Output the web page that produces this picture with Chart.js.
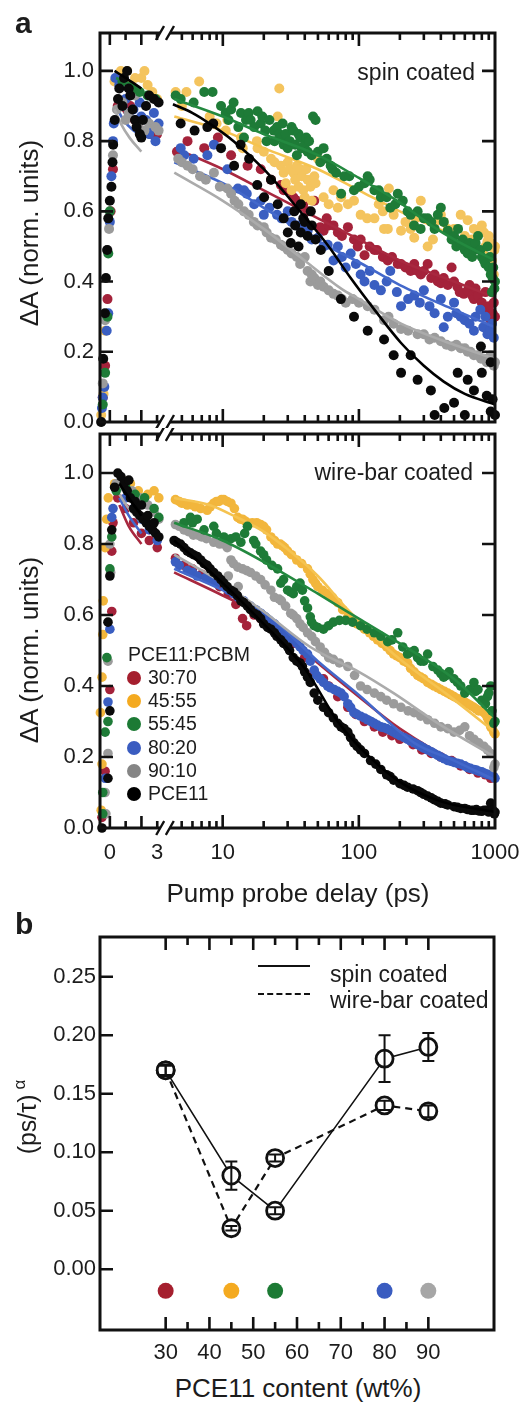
<!DOCTYPE html>
<html><head><meta charset="utf-8"><title>Transient absorption decays</title>
<script src="https://cdn.jsdelivr.net/npm/chart.js@4.4.1/dist/chart.umd.min.js"></script>
<style>
html,body{margin:0;padding:0;background:#fff;}
#wrap{position:relative;width:523px;height:1402px;overflow:hidden;font-family:"Liberation Sans",Arial,Helvetica,sans-serif;color:#1c1c1c;}
#wrap canvas{position:absolute;}
.tx{position:absolute;white-space:nowrap;line-height:1;}
.cy{transform:translateY(-50%);}
.cc{transform:translate(-50%,-50%);}
.rot{transform:translate(-50%,-50%) rotate(-90deg);}
.dot{position:absolute;border-radius:50%;width:14px;height:14px;transform:translate(-50%,-50%);}
.lg{position:absolute;width:52px;height:0;}
</style></head>
<body><div id="wrap">
<canvas id="aTL" width="165" height="428" style="left:0;top:0;width:165px;height:428px"></canvas>
<canvas id="aTR" width="358" height="428" style="left:165px;top:0;width:358px;height:428px"></canvas>
<canvas id="aBL" width="165" height="440" style="left:0;top:428px;width:165px;height:440px"></canvas>
<canvas id="aBR" width="358" height="440" style="left:165px;top:428px;width:358px;height:440px"></canvas>
<canvas id="bC" width="523" height="470" style="left:0;top:900px;width:523px;height:470px"></canvas>

<div class="tx" style="left:15px;top:8px;font-weight:bold;font-size:30px">a</div>
<div class="tx" style="left:15px;top:909px;font-weight:bold;font-size:30px">b</div>
<div class="tx cy" style="right:48px;top:72px;font-size:23px">spin coated</div>
<div class="tx cy" style="right:50px;top:472px;font-size:23px">wire-bar coated</div>
<div class="tx rot" style="left:29px;top:233px;font-size:26px">ΔA (norm. units)</div>
<div class="tx rot" style="left:29px;top:650px;font-size:26px">ΔA (norm. units)</div>
<div class="tx cc" style="left:298px;top:893px;font-size:26px">Pump probe delay (ps)</div>
<div id="legA"></div>
<div class="tx rot" style="left:27px;top:1117px;font-size:25px">(ps/τ)<span style="font-size:17px;position:relative;top:-11px;margin-left:5px">α</span></div>
<div class="tx cc" style="left:298px;top:1388px;font-size:26px">PCE11 content (wt%)</div>
<div class="lg" style="left:258px;top:965px;border-top:2px solid #111"></div>
<div class="tx cy" style="left:330px;top:974px;font-size:23px">spin coated</div>
<div class="lg" style="left:258px;top:993px;border-top:2px dashed #111"></div>
<div class="tx cy" style="left:330px;top:1000px;font-size:23px">wire-bar coated</div>
</div>
<script>
// ---------------- DATA ----------------
const SERIES_LABELS = ['30:70','45:55','55:45','80:20','90:10','PCE11'];
const X_LIN_LABELS = [0, 3];
const X_LOG_LABELS = [10, 100, 1000];
const Y_A_LABELS = [0, 0.2, 0.4, 0.6, 0.8, 1.0];
const X_B_LABELS = [30, 40, 50, 60, 70, 80, 90];
const Y_B_LABELS = [0, 0.05, 0.10, 0.15, 0.20, 0.25];

// spin coated: measured points [delay ps, dA]
const SPIN_BLACK = [[-0.55,0.0],[-0.42,0.18],[-0.31,0.31],[-0.25,0.41],[-0.17,0.49],[-0.1,0.58],[0,0.63],[0.1,0.67],[0.17,0.74],[0.21,0.79],[0.31,0.86],[0.52,0.92],[0.6,0.95],[0.8,0.90],[0.9,0.98],[1.1,1.0],[1.2,0.95],[1.3,0.93],[1.45,0.89],[1.6,0.86],[1.7,0.84],[1.9,0.82],[2.0,0.81],[2.1,0.86],[2.3,0.90],[2.5,0.93],[2.8,0.92],[3.1,0.91],
 [4.9,0.85],[6.2,0.83],[7.7,0.84],[8.5,0.85],[9.7,0.78],[12.1,0.73],[13.5,0.79],[15.6,0.75],[17.9,0.675],[20.1,0.64],[22.6,0.69],[25.3,0.62],[28,0.58],[30,0.54],[31.6,0.51],[33.5,0.60],[34,0.56],[36,0.50],[37.4,0.62],[37.4,0.54],[39,0.58],[40,0.57],[42,0.53],[44.3,0.60],[45,0.56],[48,0.52],[52.5,0.49],[60,0.43],[73.7,0.35],[92,0.30],[116,0.26],[153,0.235],[180,0.19],[204,0.14],[240,0.19],[270,0.12],[338,0.09],[360,0.02],[424,0.04],[500,0.055],[532,0.14],[600,0.02],[630,0.12],[700,0.09],[788,0.215],[800,0.14],[870,0.075],[930,0.17],[930,0.03],[960,0.065],[1000,0.02]];
const SPIN_GREEN = [[-0.45,0.05],[-0.3,0.14],[-0.15,0.3],[-0.1,0.48],[0.0,0.6],[0.8,0.97],[1.5,0.95],[1.9,0.94],[2.4,0.93],[2.9,0.92],
 [4.5,0.93],[4.9,0.92],[6.1,0.91],[7.3,0.94],[8.4,0.94],[9.7,0.90],[10.5,0.88],[11,0.86],[11.5,0.89],[12,0.91],[13,0.84],[13.6,0.88],[14.3,0.81],[14.8,0.86],[15.5,0.88],[16,0.86],[17,0.84],[18,0.885],[19,0.85],[19.5,0.87],[20.5,0.83],[21,0.80],[22,0.86],[23.7,0.83],[24,0.80],[25,0.84],[26,0.82],[26.7,0.81],[27.5,0.85],[28,0.79],[29,0.82],[30,0.78],[31,0.80],[32,0.84],[33,0.83],[34,0.79],[35,0.76],[36,0.82],[37,0.81],[38,0.78],[40,0.79],[41,0.81],[42,0.77],[43,0.80],[45,0.76],[46,0.87],[48,0.86],[50,0.77],[52,0.74],[55,0.78],[58,0.75],[62,0.73],[64,0.72],[68,0.71],[74,0.65],[78,0.70],[85,0.70],[92,0.66],[100,0.67],[110,0.68],[116,0.70],[120,0.69],[130,0.66],[140,0.66],[145,0.64],[160,0.64],[170,0.61],[185,0.62],[193,0.65],[210,0.63],[228,0.60],[240,0.59],[254,0.56],[270,0.60],[284,0.55],[300,0.58],[320,0.58],[340,0.57],[360,0.55],[380,0.59],[400,0.61],[420,0.57],[450,0.545],[480,0.52],[500,0.53],[520,0.50],[535,0.55],[560,0.51],[580,0.52],[600,0.49],[630,0.48],[650,0.51],[680,0.47],[700,0.49],[720,0.51],[750,0.53],[780,0.49],[800,0.47],[830,0.46],[850,0.45],[880,0.50],[900,0.44],[920,0.47],[930,0.42],[950,0.37],[960,0.41],[970,0.44],[990,0.38],[1000,0.40]];
const SPIN_YELLOW = [[-0.55,0.02],[-0.4,0.08],[-0.3,0.26],[0.3,0.97],[0.7,1.0],[1.1,1.0],[1.6,0.98],[2.0,0.98],[2.2,1.0],[2.4,0.96],[2.7,0.94],[3.0,0.92],
 [4.5,0.94],[5.0,0.90],[5.4,0.94],[6.7,0.97],[8,0.87],[9,0.85],[10.5,0.83],[10.8,0.86],[13.6,0.81],[14,0.78],[17.8,0.80],[18,0.78],[20,0.77],[22.6,0.75],[24,0.74],[25.3,0.87],[26,0.95],[26.7,0.73],[28,0.71],[29,0.68],[30,0.74],[31,0.72],[32,0.66],[33,0.71],[34,0.69],[35,0.73],[36,0.67],[37,0.72],[38,0.70],[39,0.66],[40,0.64],[41,0.72],[42,0.69],[44,0.67],[45,0.63],[47,0.70],[48,0.68],[50,0.75],[55,0.64],[60,0.62],[65,0.66],[70,0.61],[74,0.64],[83,0.62],[92,0.63],[103,0.59],[115,0.58],[130,0.58],[140,0.62],[150,0.60],[153,0.55],[163,0.55],[166,0.665],[180,0.59],[204,0.545],[220,0.57],[240,0.55],[255,0.525],[260,0.58],[285,0.63],[320,0.50],[350,0.52],[380,0.575],[400,0.59],[420,0.57],[450,0.55],[500,0.55],[560,0.59],[600,0.53],[630,0.575],[680,0.52],[700,0.55],[750,0.545],[800,0.56],[830,0.54],[850,0.50],[880,0.515],[900,0.53],[930,0.51],[950,0.46],[980,0.42],[990,0.49],[1000,0.50]];
const SPIN_RED = [[-0.45,0.07],[-0.3,0.16],[-0.15,0.35],[0.05,0.6],[0.2,0.72],[0.5,0.9],[1.3,0.9],[2.0,0.83],[2.6,0.82],[3.0,0.82],
 [4.6,0.77],[5.5,0.80],[7.3,0.78],[9.2,0.81],[11.5,0.76],[15.2,0.73],[19,0.72],[22.6,0.69],[26.7,0.675],[28,0.66],[30,0.66],[33,0.64],[35,0.63],[39,0.62],[42,0.60],[47,0.63],[52,0.555],[55,0.545],[58,0.58],[60,0.56],[65,0.56],[70,0.54],[75,0.53],[83,0.555],[92,0.52],[98,0.50],[103,0.52],[110,0.475],[120,0.50],[130,0.49],[136,0.49],[150,0.47],[163,0.46],[175,0.47],[193,0.45],[204,0.45],[220,0.44],[240,0.43],[255,0.45],[270,0.43],[285,0.42],[300,0.43],[320,0.45],[340,0.41],[360,0.42],[380,0.40],[400,0.395],[420,0.41],[450,0.39],[480,0.44],[500,0.40],[530,0.385],[550,0.37],[590,0.365],[630,0.375],[650,0.39],[680,0.36],[700,0.35],[720,0.38],[750,0.36],[800,0.34],[830,0.33],[850,0.37],[880,0.32],[900,0.33],[930,0.29],[950,0.29],[960,0.31],[980,0.34],[1000,0.30]];
const SPIN_BLUE = [[-0.5,0.04],[-0.45,0.07],[-0.35,0.1],[-0.2,0.26],[-0.1,0.31],[0,0.57],[0.1,0.7],[0.2,0.8],[0.25,0.85],[0.35,0.98],[0.6,0.96],[0.8,0.9],[1.0,0.92],[1.2,0.88],[1.5,0.89],[1.7,0.86],[1.9,0.91],[2.0,0.87],[2.3,0.86],[2.5,0.82],[2.7,0.84],[2.8,0.88],[2.9,0.80],[3.1,0.85],
 [4.9,0.78],[5.2,0.76],[6.1,0.75],[7.7,0.76],[8.6,0.79],[10.8,0.72],[12.9,0.665],[14.3,0.66],[15,0.65],[17,0.62],[19,0.63],[20,0.59],[22,0.61],[25,0.59],[27,0.58],[30,0.60],[32,0.57],[35,0.56],[38,0.55],[42,0.545],[45,0.52],[50,0.525],[55,0.50],[59,0.505],[65,0.46],[70,0.50],[75,0.47],[80,0.44],[87,0.48],[95,0.45],[103,0.42],[110,0.40],[120,0.43],[130,0.39],[145,0.375],[160,0.40],[170,0.43],[190,0.37],[204,0.33],[230,0.35],[255,0.36],[280,0.34],[300,0.375],[330,0.33],[360,0.31],[400,0.35],[420,0.27],[450,0.30],[500,0.34],[520,0.31],[560,0.30],[600,0.29],[650,0.28],[700,0.26],[720,0.30],[780,0.32],[820,0.27],[850,0.30],[880,0.25],[920,0.26],[950,0.28],[980,0.24]];
const SPIN_GRAY = [[-0.55,0.0],[-0.45,0.11],[-0.3,0.29],[-0.15,0.49],[-0.05,0.55],[0.2,0.76],[0.45,0.89],[0.8,0.91],[1.0,0.86],[1.2,0.88],[1.6,0.93],[1.8,0.85],[2.2,0.83],[2.5,0.85],[2.9,0.84],[3.1,0.83],
 [4.7,0.75],[5,0.74],[5.5,0.73],[6,0.72],[6.8,0.70],[7.5,0.69],[8.6,0.71],[9.5,0.67],[10.8,0.665],[11.5,0.65],[12.2,0.63],[13,0.62],[14.3,0.60],[15.5,0.59],[16.9,0.57],[18,0.56],[20,0.555],[21,0.54],[22.6,0.525],[24.5,0.52],[26.7,0.505],[28,0.50],[30,0.49],[32,0.48],[35,0.47],[37,0.45],[40,0.47],[42,0.43],[44,0.40],[45,0.42],[47,0.41],[50,0.39],[52,0.40],[55,0.385],[60,0.375],[65,0.365],[70,0.36],[75,0.35],[80,0.34],[90,0.35],[100,0.34],[116,0.33],[130,0.32],[153,0.29],[165,0.30],[180,0.28],[204,0.265],[230,0.26],[270,0.25],[300,0.25],[330,0.235],[360,0.24],[400,0.23],[440,0.22],[480,0.215],[520,0.22],[560,0.21],[600,0.21],[630,0.20],[660,0.20],[700,0.19],[750,0.19],[790,0.18],[830,0.18],[870,0.17],[900,0.18],[930,0.19],[980,0.16],[1000,0.17]];

// spin coated: fitted curves
const SPIN_FIT_BLACK = [[0.3,1.0],[1.0,0.98],[2.0,0.95],[3.2,0.915],[4.3,0.905],[6,0.88],[8,0.85],[12,0.80],[20,0.72],[37,0.60],[60,0.50],[87,0.41],[130,0.32],[204,0.225],[300,0.16],[420,0.115],[600,0.08],[1000,0.05]];
const SPIN_FIT_GREEN = [[0.4,0.98],[1.5,0.96],[3.2,0.94],[4.4,0.92],[10,0.87],[20,0.82],[50,0.76],[100,0.695],[200,0.625],[340,0.56],[500,0.52],[1000,0.46]];
const SPIN_FIT_YELLOW = [[0.4,0.99],[1.5,0.96],[3.2,0.93],[4.4,0.87],[10,0.83],[20,0.78],[50,0.72],[100,0.66],[200,0.60],[500,0.53],[1000,0.47]];
const SPIN_FIT_RED = [[0.4,0.92],[0.8,0.89],[1.5,0.85],[2.3,0.825],[3.2,0.805],[4.4,0.78],[10,0.72],[20,0.66],[50,0.58],[100,0.52],[200,0.46],[500,0.40],[1000,0.355]];
const SPIN_FIT_BLUE = [[0.4,0.90],[0.8,0.865],[1.5,0.83],[2.3,0.81],[3.2,0.79],[4.4,0.74],[10,0.68],[20,0.61],[50,0.515],[100,0.455],[200,0.39],[500,0.32],[1000,0.27]];
const SPIN_FIT_GRAY = [[0.3,0.89],[0.7,0.85],[1.25,0.81],[2.0,0.77],[3.2,0.735],[4.4,0.71],[10,0.63],[20,0.55],[37,0.47],[74,0.38],[100,0.35],[204,0.28],[500,0.22],[1000,0.18]];

// wire-bar coated: measured points
const WIRE_BLACK = [[-0.5,0.0],[-0.12,0.14],[0.0,0.33],[-0.12,0.58],[0.0,0.71],[0.12,0.84],[0.3,0.96],[0.5,1.0],[0.7,0.99],[0.9,0.97],[1.1,0.95],[1.2,0.98],[1.3,0.93],[1.5,0.90],[1.6,0.92],[1.7,0.89],[1.9,0.88],[2.0,0.91],[2.1,0.87],[2.3,0.86],[2.4,0.88],[2.5,0.85],[2.7,0.84],[2.8,0.86],[2.9,0.83],[3.1,0.82],
 [4.4,0.81],[4.6,0.805],[4.9,0.80],[5.2,0.79],[5.5,0.78],[5.8,0.775],[6.1,0.77],[6.5,0.765],[6.9,0.755],[7.3,0.745],[7.7,0.74],[8.1,0.73],[8.6,0.72],[9.2,0.71],[9.7,0.70],[10.2,0.69],[10.8,0.68],[11.5,0.67],[12.1,0.665],[12.8,0.655],[13.6,0.64],[14.3,0.635],[15.2,0.625],[16,0.615],[17,0.605],[18,0.60],[19,0.59],[20,0.575],[21.4,0.565],[22.6,0.56],[24,0.55],[25,0.54],[26.7,0.53],[28,0.52],[30,0.51],[31,0.50],[33,0.48],[35,0.47],[37,0.465],[38.5,0.455],[40,0.44],[42,0.425],[44,0.41],[47,0.38],[50,0.36],[55,0.34],[60,0.325],[65,0.31],[70,0.295],[74,0.285],[78,0.28],[83,0.27],[87,0.255],[92,0.24],[97,0.23],[103,0.22],[110,0.21],[122,0.19],[133,0.18],[145,0.165],[160,0.15],[170,0.145],[180,0.135],[200,0.125],[215,0.12],[228,0.115],[250,0.11],[270,0.105],[285,0.10],[300,0.095],[320,0.09],[340,0.085],[357,0.08],[380,0.075],[400,0.07],[430,0.068],[450,0.065],[500,0.06],[530,0.058],[560,0.055],[600,0.055],[630,0.052],[670,0.05],[700,0.05],[730,0.052],[760,0.048],[800,0.047],[830,0.05],[870,0.05],[900,0.045],[930,0.07],[960,0.05],[990,0.04],[1000,0.045]];
const WIRE_GREEN = [[-0.45,0.04],[-0.45,0.10],[-0.3,0.27],[-0.12,0.30],[-0.19,0.48],[0.0,0.73],[0.12,0.82],[0.4,0.95],[1.0,0.96],[1.6,0.94],[2.2,0.93],[2.8,0.90],[3.1,0.875],
 [5.2,0.86],[5.8,0.875],[6,0.86],[6.5,0.87],[7.3,0.84],[8.6,0.85],[9,0.83],[10.2,0.82],[11.5,0.815],[12.5,0.82],[13.6,0.805],[14.5,0.83],[15.2,0.85],[16.9,0.81],[17.5,0.80],[19,0.78],[20,0.77],[21,0.755],[23,0.74],[25.3,0.73],[26.7,0.69],[28,0.70],[30,0.67],[31.5,0.665],[33,0.66],[35,0.68],[37,0.69],[38.5,0.67],[40,0.64],[42,0.62],[44,0.595],[45,0.58],[47,0.57],[50,0.565],[55,0.56],[60,0.57],[65,0.58],[72,0.585],[80,0.585],[90,0.58],[103,0.57],[115,0.56],[130,0.55],[145,0.54],[163,0.525],[175,0.53],[193,0.55],[210,0.51],[228,0.49],[240,0.495],[255,0.50],[270,0.48],[285,0.47],[300,0.47],[320,0.49],[350,0.455],[380,0.445],[400,0.435],[420,0.425],[440,0.43],[460,0.44],[500,0.42],[530,0.41],[560,0.40],[600,0.38],[650,0.39],[700,0.41],[720,0.385],[750,0.39],[800,0.36],[850,0.35],[880,0.37],[900,0.38],[930,0.40],[950,0.33],[980,0.295],[1000,0.30]];
const WIRE_YELLOW = [[-0.6,0.325],[-0.5,0.425],[-0.45,0.545],[-0.42,0.64],[-0.3,0.79],[-0.2,0.87],[-0.1,0.93],[-0.55,0.05],[-0.5,0.18],[0.3,0.97],[0.8,0.98],[1.3,0.97],[1.8,0.95],[2.4,0.94],[2.8,0.95],[3.1,0.93],
 [4.5,0.925],[4.8,0.92],[5.0,0.915],[5.2,0.915],[5.5,0.91],[6,0.91],[6.3,0.905],[6.9,0.90],[7.7,0.895],[8.1,0.905],[8.6,0.915],[9,0.92],[9.4,0.92],[9.8,0.925],[10.2,0.925],[10.8,0.92],[11.5,0.915],[12.2,0.90],[12.9,0.875],[13.5,0.87],[14,0.87],[14.6,0.865],[15.2,0.86],[16.5,0.86],[17.8,0.86],[19,0.855],[20,0.85],[21,0.84],[22.6,0.82],[24,0.81],[25.3,0.80],[26.5,0.80],[27.5,0.795],[28.5,0.79],[30,0.78],[32,0.77],[35,0.755],[38,0.745],[42,0.73],[44,0.715],[46,0.70],[48,0.69],[50,0.68],[54,0.67],[59,0.66],[64,0.65],[70,0.635],[76,0.615],[83,0.595],[88,0.585],[92,0.58],[97,0.575],[103,0.57],[110,0.56],[120,0.55],[128,0.54],[137,0.53],[148,0.52],[160,0.51],[170,0.50],[180,0.49],[190,0.485],[200,0.48],[214,0.47],[228,0.465],[240,0.45],[255,0.44],[270,0.43],[285,0.425],[300,0.42],[320,0.41],[340,0.405],[357,0.40],[380,0.395],[400,0.39],[425,0.385],[450,0.38],[475,0.375],[500,0.37],[530,0.365],[560,0.36],[600,0.355],[630,0.35],[665,0.345],[700,0.34],[730,0.335],[760,0.33],[800,0.33],[830,0.325],[855,0.32],[880,0.31],[905,0.30],[930,0.285],[955,0.28],[980,0.27],[1000,0.265]];
const WIRE_RED = [[-0.5,0.03],[-0.3,0.16],[0,0.39],[0.12,0.61],[0.12,0.78],[0.2,0.86],[0.5,0.93],[1.0,0.90],[1.5,0.86],[2.0,0.83],[2.5,0.81],[3.0,0.79],
 [4.5,0.76],[5.2,0.74],[6,0.73],[7,0.715],[8,0.70],[9.5,0.68],[11,0.66],[12.5,0.63],[14,0.59],[15,0.57],[17,0.60],[19,0.59],[22,0.565],[25,0.55],[28,0.535],[33,0.52],[40,0.48],[47,0.44],[55,0.42],[60,0.40],[70,0.37],[83,0.34],[95,0.32],[110,0.30],[130,0.285],[150,0.27],[175,0.26],[200,0.25],[250,0.235],[290,0.22],[340,0.21],[400,0.20],[480,0.19],[560,0.175],[650,0.165],[750,0.155],[850,0.15],[930,0.14]];
const WIRE_BLUE = [[-0.3,0.14],[-0.12,0.355],[0,0.56],[0.12,0.875],[0.2,0.90],[0.5,0.97],[1.0,0.93],[1.5,0.90],[2.0,0.87],[2.5,0.84],[3.0,0.81],
 [4.5,0.75],[4.8,0.74],[5.5,0.725],[6,0.72],[6.5,0.71],[7.5,0.705],[8.2,0.70],[9,0.69],[10.5,0.68],[11,0.67],[12,0.66],[13,0.65],[14.3,0.64],[15,0.63],[16,0.625],[17.5,0.615],[19,0.605],[20.5,0.595],[22,0.585],[24,0.575],[25.3,0.565],[27,0.555],[29,0.545],[31,0.535],[33,0.53],[35,0.52],[37,0.51],[39,0.50],[42,0.49],[44,0.47],[47,0.445],[49,0.43],[52,0.42],[55,0.41],[59,0.40],[62,0.395],[66,0.39],[70,0.385],[74,0.38],[78,0.37],[83,0.35],[87,0.34],[92,0.325],[97,0.32],[103,0.315],[110,0.31],[116,0.305],[123,0.30],[130,0.295],[137,0.29],[145,0.285],[152,0.283],[160,0.28],[170,0.275],[180,0.27],[190,0.265],[200,0.26],[215,0.255],[228,0.25],[240,0.245],[255,0.24],[270,0.235],[285,0.23],[300,0.225],[320,0.22],[340,0.215],[357,0.21],[380,0.205],[400,0.20],[425,0.195],[450,0.19],[475,0.188],[500,0.185],[530,0.182],[560,0.18],[600,0.175],[630,0.17],[660,0.168],[700,0.165],[730,0.163],[760,0.16],[800,0.158],[830,0.155],[870,0.152],[900,0.15],[940,0.148],[980,0.145],[1000,0.14]];
const WIRE_GRAY = [[-0.25,0.04],[-0.3,0.10],[-0.12,0.21],[-0.12,0.47],[0.05,0.72],[0.0,0.80],[0.4,0.97],[0.9,0.96],[1.4,0.95],[1.9,0.93],[2.4,0.91],[2.8,0.89],[3.1,0.87],
 [4.5,0.855],[4.8,0.85],[5.2,0.84],[5.6,0.835],[6.1,0.825],[6.6,0.825],[7,0.82],[7.6,0.815],[8.6,0.805],[9.5,0.80],[10.2,0.80],[10.8,0.79],[11,0.71],[11.5,0.755],[12,0.745],[12.9,0.735],[13,0.68],[14,0.73],[15,0.725],[16,0.72],[17.5,0.71],[19,0.70],[20.5,0.685],[22.6,0.67],[24,0.65],[26,0.645],[27,0.64],[29,0.625],[31.6,0.605],[33,0.60],[35,0.59],[37,0.575],[39,0.565],[42,0.55],[45,0.54],[48,0.525],[52,0.51],[56,0.495],[60,0.48],[65,0.475],[72,0.465],[83,0.455],[93,0.43],[103,0.40],[115,0.39],[130,0.38],[145,0.37],[160,0.36],[180,0.35],[204,0.34],[230,0.33],[255,0.325],[285,0.315],[320,0.305],[360,0.295],[400,0.285],[450,0.28],[500,0.27],[550,0.275],[600,0.285],[650,0.26],[700,0.25],[760,0.24],[830,0.23],[880,0.22],[930,0.21],[980,0.17],[1000,0.18]];

// wire-bar coated: fitted curves
const WIRE_FIT_BLACK = [[0.6,0.97],[1.2,0.93],[2.0,0.88],[3.2,0.84],[4.4,0.81],[10,0.69],[20,0.575],[40,0.45],[70,0.30],[100,0.23],[200,0.13],[400,0.075],[1000,0.045]];
const WIRE_FIT_GREEN = [[0.6,0.96],[3.2,0.88],[4.4,0.86],[10,0.81],[20,0.75],[50,0.66],[100,0.59],[200,0.52],[500,0.42],[1000,0.31]];
const WIRE_FIT_YELLOW = [[0.6,0.97],[3.2,0.93],[4.4,0.93],[8,0.91],[12,0.88],[20,0.835],[30,0.785],[50,0.71],[83,0.615],[180,0.49],[450,0.375],[1000,0.27]];
const WIRE_FIT_RED = [[0.6,0.91],[1.2,0.85],[2.0,0.80],[3.2,0.76],[4.4,0.72],[10,0.655],[20,0.595],[50,0.465],[100,0.37],[200,0.28],[500,0.19],[1000,0.145]];
const WIRE_FIT_BLUE = [[0.6,0.93],[1.2,0.88],[2.0,0.83],[3.2,0.79],[4.4,0.73],[10,0.67],[20,0.61],[50,0.47],[100,0.375],[255,0.24],[500,0.19],[1000,0.135]];
const WIRE_FIT_GRAY = [[0.6,0.94],[1.2,0.90],[2.0,0.86],[3.2,0.82],[4.4,0.77],[10,0.69],[20,0.61],[44,0.51],[100,0.44],[180,0.38],[400,0.29],[1000,0.20]];

// panel b
const COMPOSITION = [30, 45, 55, 80, 90];
const SPIN_VAL = [0.170, 0.080, 0.050, 0.180, 0.190];
const SPIN_ERR = [0.005, 0.012, 0.003, 0.020, 0.012];
const WIRE_VAL = [0.170, 0.035, 0.095, 0.140, 0.135];
const WIRE_ERR = [0.004, 0.002, 0.003, 0.004, 0.005];
const DOT_LEVEL = [-0.0185, -0.0185, -0.0185, -0.0185, -0.0185];

// ---------------- STYLE ----------------
const FONT = '"Liberation Sans", Arial, Helvetica, sans-serif';
Chart.defaults.font.family = FONT;
Chart.defaults.color = '#1c1c1c';
const PT_SPIN = {red:'#a4223a', yellow:'#f4c45e', green:'#1e7b37', blue:'#3a5ec1', gray:'#9b9b9b', black:'#0a0a0a'};
const PT_WIRE = {red:'#a4223a', yellow:'#f2b63c', green:'#1e7b37', blue:'#3a5ec1', gray:'#9b9b9b', black:'#0a0a0a'};
const LN = {red:'#a8283f', yellow:'#f5c350', green:'#23893f', blue:'#4368cb', gray:'#ababab', black:'#000000'};
const LEG = {red:'#a51f2e', yellow:'#f4aa20', green:'#1c7a34', blue:'#3a5cc0', gray:'#858585', black:'#000000'};
const ORDER = ['black','green','gray','blue','yellow','red']; // first = drawn on top
const SPIN = {black:[SPIN_BLACK,SPIN_FIT_BLACK], green:[SPIN_GREEN,SPIN_FIT_GREEN], yellow:[SPIN_YELLOW,SPIN_FIT_YELLOW], red:[SPIN_RED,SPIN_FIT_RED], blue:[SPIN_BLUE,SPIN_FIT_BLUE], gray:[SPIN_GRAY,SPIN_FIT_GRAY]};
const WIRE = {black:[WIRE_BLACK,WIRE_FIT_BLACK], green:[WIRE_GREEN,WIRE_FIT_GREEN], yellow:[WIRE_YELLOW,WIRE_FIT_YELLOW], red:[WIRE_RED,WIRE_FIT_RED], blue:[WIRE_BLUE,WIRE_FIT_BLUE], gray:[WIRE_GRAY,WIRE_FIT_GRAY]};

(function(){
  const host = document.getElementById('legA');
  const cols = ['red','yellow','green','blue','gray','black'];
  let h = '<div class="tx cy" style="left:128px;top:655px;font-size:19.5px">PCE11:PCBM</div>';
  SERIES_LABELS.forEach((lab,i)=>{
    const y = 678 + i*23.2;
    h += '<div class="dot" style="left:134px;top:'+y+'px;background:'+LEG[cols[i]]+'"></div>';
    h += '<div class="tx cy" style="left:148px;top:'+y+'px;font-size:19.5px">'+lab+'</div>';
  });
  host.innerHTML = h;
})();

// ---------------- PLUGINS ----------------
const FRAME = {};
const framePlugin = {
  id:'frameDeco',
  afterDatasetsDraw(chart){
    const o = FRAME[chart.canvas.id]; if(!o) return;
    const ctx = chart.ctx, a = chart.chartArea, xs = chart.scales.x, ys = chart.scales.y;
    const L=a.left, R=a.right, T=a.top, B=a.bottom, h=1.5;
    ctx.save();
    ctx.strokeStyle='#111'; ctx.lineWidth=3; ctx.lineCap='butt';
    ctx.beginPath();
    const x0 = o.left ? L-h : L, x1 = o.right ? R+h : R;
    ctx.moveTo(x0,T); ctx.lineTo(x1,T);
    ctx.moveTo(x0,B); ctx.lineTo(x1,B);
    if(o.left){ctx.moveTo(L,T); ctx.lineTo(L,B);}
    if(o.right){ctx.moveTo(R,T); ctx.lineTo(R,B);}
    ctx.stroke();
    ctx.lineWidth=2.6; ctx.beginPath();
    (o.xt||[]).forEach(t=>{const px=xs.getPixelForValue(t[0]);
      ctx.moveTo(px,T); ctx.lineTo(px,T+t[1]); ctx.moveTo(px,B); ctx.lineTo(px,B-t[1]);});
    (o.ytL||[]).forEach(t=>{const py=ys.getPixelForValue(t[0]); ctx.moveTo(L,py); ctx.lineTo(L+t[1],py);});
    (o.ytR||[]).forEach(t=>{const py=ys.getPixelForValue(t[0]); ctx.moveTo(R,py); ctx.lineTo(R-t[1],py);});
    ctx.stroke();
    if(o.brk){
      const bx = o.brk==='right' ? R : L;
      ctx.lineWidth=2.4; ctx.beginPath();
      [T,B].forEach(by=>{ctx.moveTo(bx-4,by+7); ctx.lineTo(bx+4,by-7);});
      ctx.stroke();
    }
    ctx.restore();
  }
};
Chart.register(framePlugin);

const LIN_TICKS = [[0,12],[1,7],[2,12],[3,7]];
const LOG_TICKS = [];
[1,10,100].forEach(d=>{for(let k=1;k<=9;k++){const v=k*d; if(v>=5 && v<1000) LOG_TICKS.push([v, k===1?13:7]);}});
const Y_TICKS_A = [[0.2,13],[0.4,13],[0.6,13],[0.8,13],[1.0,13]];

// ---------------- CHARTS ----------------
const LIN_RANGE = [-0.625, 3.1875];
const LOG_RANGE = [4.09, 1000];

function toXY(arr, lo, hi){ return arr.filter(p=>p[0]>=lo && p[0]<=hi).map(p=>({x:p[0], y:p[1]})); }
function buildSets(group, lo, hi, r, pal){
  const ds = [];
  ORDER.forEach(s=>{
    ds.push({data:toXY(group[s][1],lo,hi), showLine:true, borderColor:LN[s], borderWidth:2.6, pointRadius:0, tension:0.4, cubicInterpolationMode:'monotone', clip:false});
    ds.push({data:toXY(group[s][0],lo,hi), showLine:false, backgroundColor:pal[s], pointBorderWidth:0, pointRadius:r, clip:false});
  });
  return ds;
}
function makeA(id, group, isLeft, showX, yMax, pad, r, pal){
  const lo = isLeft ? LIN_RANGE[0] : LOG_RANGE[0];
  const hi = isLeft ? LIN_RANGE[1] : LOG_RANGE[1];
  FRAME[id] = isLeft ? {left:true, right:false, brk:'right', xt:LIN_TICKS, ytL:Y_TICKS_A}
                     : {left:false, right:true, brk:'left', xt:LOG_TICKS, ytR:Y_TICKS_A};
  new Chart(document.getElementById(id), {
    type:'scatter',
    data:{datasets: buildSets(group, lo - 0.001, hi, r, pal)},
    options:{
      responsive:false, animation:false, devicePixelRatio:1, events:[],
      layout:{padding:pad},
      plugins:{legend:{display:false}, tooltip:{enabled:false}},
      scales:{
        x:{type: isLeft?'linear':'logarithmic', min:lo, max:hi, bounds:'data', display:showX, position:'bottom',
           grid:{display:false, drawTicks:false}, border:{display:false},
           ticks:{padding:12, autoSkip:false, maxRotation:0, font:{size:22}, color:'#1c1c1c', callback:(v)=>String(v)},
           afterBuildTicks:(s)=>{ s.ticks = (isLeft?X_LIN_LABELS:X_LOG_LABELS).map(v=>({value:v})); },
           afterFit:(s)=>{ if(showX){ s.height = 40; } s.paddingLeft = 0; s.paddingRight = 0; }},
        y:{type:'linear', min:0, max:yMax, bounds:'data', display:isLeft, position:'left',
           grid:{display:false, drawTicks:false}, border:{display:false},
           ticks:{padding:6, font:{size:22}, color:'#1c1c1c', callback:(v)=>Number(v).toFixed(1)},
           afterBuildTicks:(s)=>{ s.ticks = Y_A_LABELS.map(v=>({value:v})); },
           afterFit:(s)=>{ if(isLeft){ s.width = 100; } s.paddingTop = 0; s.paddingBottom = 0; }}
      }
    }
  });
}
makeA('aTL', SPIN, true,  false, 1.108, {top:33, bottom:6, left:0, right:4}, 5, PT_SPIN);
makeA('aTR', SPIN, false, false, 1.108, {top:33, bottom:6, left:4, right:28}, 5, PT_SPIN);
makeA('aBL', WIRE, true,  true,  1.11,  {top:6, bottom:0, left:0, right:4}, 4.8, PT_WIRE);
makeA('aBR', WIRE, false, true,  1.11,  {top:6, bottom:0, left:4, right:28}, 4.8, PT_WIRE);

// panel b
const B_X_TICKS = [];
for(let v=30; v<=90; v+=5) B_X_TICKS.push([v, v%10===0?13:8]);
FRAME['bC'] = {left:true, right:true, xt:B_X_TICKS, ytL:Y_B_LABELS.map(v=>[v,13])};
const errPlugin = {
  id:'errBars',
  afterDatasetsDraw(chart){
    const ctx = chart.ctx, ys = chart.scales.y;
    ctx.save(); ctx.strokeStyle='#111'; ctx.lineWidth=2;
    chart.data.datasets.forEach((d,i)=>{
      if(!d.errors) return;
      const meta = chart.getDatasetMeta(i);
      meta.data.forEach((pt,j)=>{
        const v = d.data[j].y, e = d.errors[j];
        const y1 = ys.getPixelForValue(v+e), y2 = ys.getPixelForValue(v-e);
        ctx.beginPath();
        ctx.moveTo(pt.x,y1); ctx.lineTo(pt.x,y2);
        ctx.moveTo(pt.x-6,y1); ctx.lineTo(pt.x+6,y1);
        ctx.moveTo(pt.x-6,y2); ctx.lineTo(pt.x+6,y2);
        ctx.stroke();
      });
    });
    ctx.restore();
  }
};
new Chart(document.getElementById('bC'), {
  type:'scatter',
  data:{datasets:[
    {data:COMPOSITION.map((x,i)=>({x, y:WIRE_VAL[i]})), errors:WIRE_ERR, showLine:true, borderColor:'#111', borderWidth:2.2, borderDash:[7,5],
     pointRadius:8.5, pointBorderWidth:2.8, pointBorderColor:'#111', pointBackgroundColor:'#ffffff', clip:false},
    {data:COMPOSITION.map((x,i)=>({x, y:SPIN_VAL[i]})), errors:SPIN_ERR, showLine:true, borderColor:'#111', borderWidth:1.6,
     pointRadius:8.5, pointBorderWidth:2.8, pointBorderColor:'#111', pointBackgroundColor:'#ffffff', clip:false},
    {data:COMPOSITION.map((x,i)=>({x, y:DOT_LEVEL[i]})), showLine:false, pointRadius:8, pointBorderWidth:0,
     backgroundColor:[LEG.red, LEG.yellow, LEG.green, LEG.blue, '#a6a6a6']}
  ]},
  options:{
    responsive:false, animation:false, devicePixelRatio:1, events:[],
    layout:{padding:{top:37, bottom:0, left:0, right:29}},
    plugins:{legend:{display:false}, tooltip:{enabled:false}},
    scales:{
      x:{type:'linear', min:15, max:105, bounds:'data', position:'bottom',
         grid:{display:false, drawTicks:false}, border:{display:false},
         ticks:{padding:10, autoSkip:false, maxRotation:0, font:{size:22}, color:'#1c1c1c', callback:(v)=>String(v)},
         afterBuildTicks:(s)=>{ s.ticks = X_B_LABELS.map(v=>({value:v})); },
         afterFit:(s)=>{ s.height = 40; s.paddingLeft = 0; s.paddingRight = 0; }},
      y:{type:'linear', min:-0.052, max:0.284, bounds:'data', position:'left',
         grid:{display:false, drawTicks:false}, border:{display:false},
         ticks:{padding:4, font:{size:22}, color:'#1c1c1c', callback:(v)=>Number(v).toFixed(2)},
         afterBuildTicks:(s)=>{ s.ticks = Y_B_LABELS.map(v=>({value:v})); },
         afterFit:(s)=>{ s.width = 100; s.paddingTop = 0; s.paddingBottom = 0; }}
    }
  },
  plugins:[errPlugin]
});
</script>
</body></html>
